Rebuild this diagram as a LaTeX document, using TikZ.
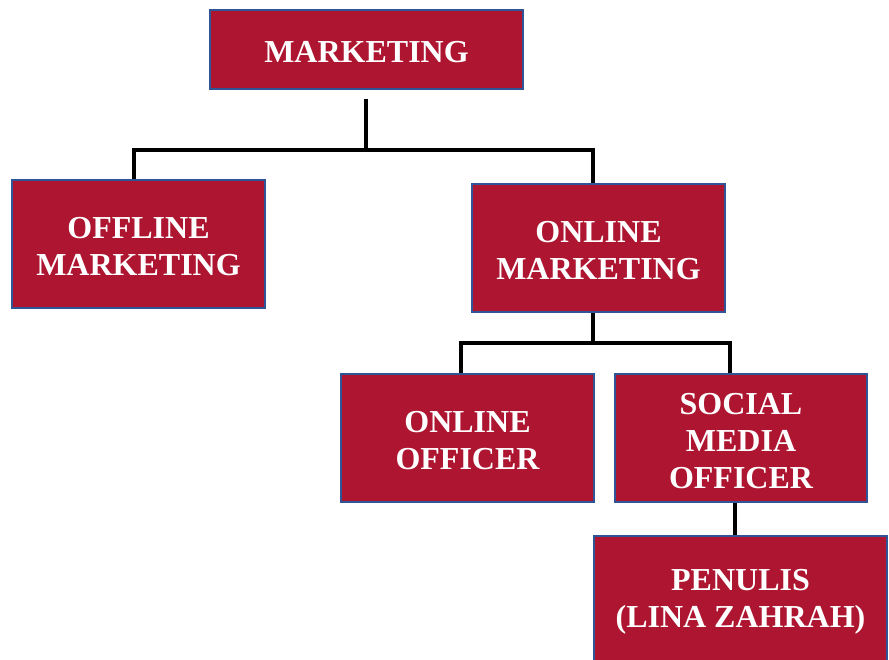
\documentclass[tikz,border=0pt]{standalone}
\usepackage{fontspec}
\setmainfont{Liberation Serif}
\definecolor{boxred}{HTML}{AD1530}
\definecolor{boxblue}{HTML}{2F5597}
\begin{document}
\begin{tikzpicture}[x=1pt,y=-1pt,
  box/.style={draw=boxblue, line width=2.2pt, fill=boxred, inner sep=0pt},
  lbl/.style={text=white, font=\bfseries\fontsize{32}{37}\selectfont, align=center, inner sep=0pt},
  conn/.style={draw=black, line width=3.5pt, line join=miter}]
\useasboundingbox (0,0) rectangle (889,659);
\node[box, minimum width=313pt, minimum height=79pt] (m) at (366.5,49.5) {};
\node[box, minimum width=253pt, minimum height=128pt] (off) at (138.5,244) {};
\node[box, minimum width=253pt, minimum height=128pt] (on) at (598.5,248) {};
\node[box, minimum width=253pt, minimum height=128pt] (oo) at (467.5,438) {};
\node[box, minimum width=252pt, minimum height=128pt] (sm) at (741,438) {};
\node[box, minimum width=293pt, minimum height=130pt] (pen) at (740.5,601) {};
\node[lbl] (mL) at ([yshift=-3pt]m.center) {MARKETING};
\node[lbl] (offL) at ([yshift=-3pt]off.center) {OFFLINE\\MARKETING};
\node[lbl] (onL) at ([yshift=-3pt]on.center) {ONLINE\\MARKETING};
\node[lbl] (ooL) at ([yshift=-3pt]oo.center) {ONLINE\\OFFICER};
\node[lbl] (smL) at ([yshift=-3pt]sm.center) {SOCIAL\\MEDIA\\OFFICER};
\node[lbl] (penL) at ([yshift=-1pt]pen.center) {PENULIS\\(LINA ZAHRAH)};
\coordinate (mt) at (366,99);
\coordinate (mj) at (366,150);
\coordinate (oj) at (593,343);
\draw[conn] (mt) -- (mj);
\draw[conn] ([xshift=-4.5pt]off.north) |- (mj) -| ([xshift=-5.5pt]on.north);
\draw[conn] ([xshift=-5.5pt]on.south) -- (oj);
\draw[conn] ([xshift=-6.5pt]oo.north) |- (oj) -| ([xshift=-11pt]sm.north);
\draw[conn] ([xshift=-6pt]sm.south) -- ([xshift=-5.5pt]pen.north);
\end{tikzpicture}
\end{document}
